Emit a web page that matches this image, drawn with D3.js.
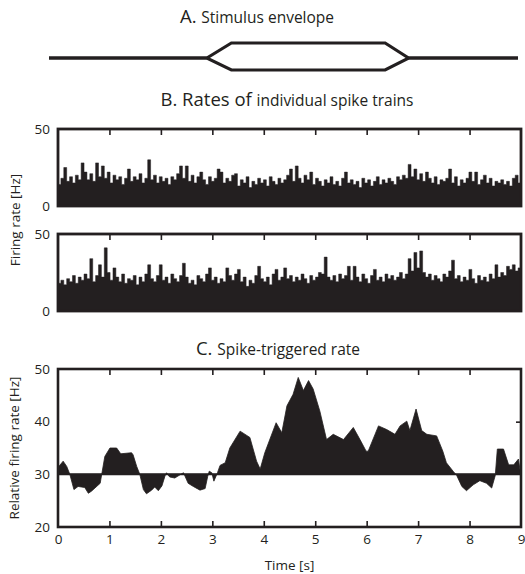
<!DOCTYPE html>
<html>
<head>
<meta charset="utf-8">
<script src="https://cdn.jsdelivr.net/npm/d3@7"></script>
<style>
  html, body { margin: 0; padding: 0; background: #fff; }
  svg { display: block; font-family: "Open Sans", sans-serif; }
</style>
</head>
<body>
<div id="viz"></div>
<script>
// A. stimulus envelope (schematic, time in s vs. relative amplitude)
const ENV_TIME = [0, 3.03, 3.5, 6.45, 6.9, 9];
const ENV_LEVEL = [0, 0, 1, 1, 0, 0];

// B. rates of two individual spike trains [Hz], evenly spaced over 0-9 s
const RATE_TOP = [
  14, 18, 25, 16, 19, 15, 20, 17, 28, 22,
  17, 21, 16, 28, 19, 26, 18, 22, 15, 20,
  17, 19, 14, 18, 24, 16, 19, 17, 21, 15,
  18, 30, 17, 20, 15, 19, 16, 18, 14, 19,
  17, 21, 26, 18, 26, 16, 20, 15, 19, 22,
  17, 14, 19, 16, 18, 24, 22, 15, 18, 16,
  20, 21, 13, 17, 15, 19, 12, 16, 14, 18,
  15, 17, 13, 19, 16, 14, 18, 15, 17, 20,
  24, 16, 26, 18, 15, 20, 17, 22, 14, 18,
  16, 13, 17, 15, 19, 14, 16, 13, 18, 22,
  15, 17, 14, 16, 12, 18, 15, 17, 13, 16,
  19, 14, 17, 15, 18, 16, 14, 19, 17, 20,
  18, 27, 19, 24, 17, 21, 16, 22, 18, 15,
  19, 14, 17, 16, 18, 24, 15, 19, 13, 17,
  15, 18, 22, 16, 22, 14, 17, 20, 15, 18,
  13, 16, 15, 17, 14, 16, 13, 18, 20, 15
];
const RATE_BOTTOM = [
  18, 20, 17, 21, 19, 23, 18, 22, 20, 24,
  21, 34, 19, 23, 30, 22, 41, 25, 20, 28,
  22, 19, 24, 18, 21, 20, 23, 17, 22, 19,
  24, 30, 21, 19, 23, 30, 20, 22, 18, 24,
  21, 19, 23, 31, 22, 18, 20, 17, 23, 21,
  19, 24, 28, 20, 22, 18, 21, 19, 28, 23,
  20, 24, 27, 19, 22, 16, 20, 18, 23, 29,
  21, 19, 22, 17, 24, 27, 20, 22, 28, 21,
  23, 19, 22, 20, 24, 21, 18, 23, 20, 22,
  25, 24, 35, 22, 20, 23, 19, 24, 21, 23,
  29, 20, 29, 22, 19, 24, 21, 18, 23, 27,
  20, 22, 19, 24, 21, 23, 20, 22, 25, 21,
  24, 34, 26, 38, 28, 39, 25, 22, 24, 20,
  23, 21, 19, 24, 22, 26, 33, 21, 23, 19,
  22, 20, 27, 21, 18, 23, 20, 22, 19, 24,
  21, 30, 22, 25, 23, 29, 27, 30, 26, 28
];

// C. spike-triggered rate [Hz]
const STA_TIME = [
  0, 0.1, 0.17, 0.23, 0.31, 0.39, 0.52, 0.59, 0.65, 0.82, 0.85, 0.91, 1.01, 1.14, 1.22,
  1.43, 1.46, 1.53, 1.59, 1.66, 1.72, 1.82, 1.88, 1.95, 2.02, 2.08, 2.11, 2.17, 2.27, 2.37,
  2.44, 2.53, 2.63, 2.76, 2.86, 2.91, 2.94, 2.99, 3.03, 3.10, 3.15, 3.25, 3.34, 3.54, 3.73,
  3.86, 3.93, 4.02, 4.24, 4.35, 4.45, 4.57, 4.67, 4.77, 4.87, 4.96, 5.09, 5.22, 5.35, 5.55,
  5.74, 5.87, 5.99, 6.03, 6.23, 6.39, 6.55, 6.65, 6.78, 6.84, 6.96, 7.07, 7.17, 7.36, 7.48,
  7.55, 7.68, 7.75, 7.85, 7.94, 8.07, 8.20, 8.33, 8.43, 8.50, 8.54, 8.66, 8.76, 8.86, 8.95,
  8.98, 9.0
];
const STA_RATE = [
  31.3, 32.5, 31.5, 30, 27.1, 27.7, 27.5, 26.4, 26.8, 28.3, 30, 33.4, 35.0, 35.0, 33.9,
  34.1, 33.7, 31.5, 30, 27.1, 26.3, 27.0, 27.6, 26.9, 27.8, 29.7, 30.3, 29.5, 29.3, 29.9,
  30.3, 28.3, 27.7, 27.0, 27.3, 29.6, 30.6, 30.3, 28.7, 30.3, 31.7, 32.2, 35.0, 38.2, 37.0,
  32.5, 31.0, 34.1, 39.8, 37.9, 43.0, 45.2, 48.4, 45.9, 47.8, 46.2, 42.0, 36.6, 37.6, 36.6,
  38.9, 36.6, 34.4, 34.4, 39.2, 38.5, 37.6, 39.2, 40.1, 38.3, 42.4, 38.3, 37.6, 37.3, 34.4,
  32.2, 30.6, 29.8, 27.7, 26.9, 28.0, 28.8, 28.3, 27.4, 29.8, 34.8, 34.8, 31.8, 31.8, 32.9,
  30.9, 30
];
const STA_BASELINE = 30;

const TIME_TICKS = [0, 1, 2, 3, 4, 5, 6, 7, 8, 9];
const INNER_TICKS = [1, 2, 3, 4, 5, 6, 7, 8];
const RATE_TICKS = [0, 50];
const STA_TICKS = [20, 30, 40, 50];

const W = 525;
const H = 574;
const INK = "#231f20";
const LABEL_SIZE = 13.5;

const svg = d3.select("#viz").append("svg").attr("width", W).attr("height", H);

const x = d3.scaleLinear().domain([0, 9]).range([58, 521]);

// --- A. stimulus envelope ---
const xEnv = d3.scaleLinear().domain([0, 9]).range([49, 518]);
const yEnv = d3.scaleLinear().domain([-1, 0, 1]).range([70, 58, 43]);
const envLine = d3.line().x((d, i) => xEnv(ENV_TIME[i])).y(d => yEnv(d));

svg.append("path")
  .attr("d", envLine(ENV_LEVEL))
  .attr("fill", "none").attr("stroke", INK).attr("stroke-width", 3.2);
svg.append("path")
  .attr("d", envLine(ENV_LEVEL.map(v => -v)))
  .attr("fill", "none").attr("stroke", INK).attr("stroke-width", 3.2);

function title(y, big, small) {
  const t = svg.append("text")
    .attr("x", 0).attr("y", y)
    .attr("fill", INK);
  t.append("tspan").attr("font-size", 18.5).text(big);
  t.append("tspan").attr("font-size", 15.5).text(small);
  return t;
}

const titles = [
  { y: 23, cx: 257, big: "A. ", small: "Stimulus envelope" },
  { y: 106, cx: 287, big: "B. Rates of ", small: "individual spike trains" },
  { y: 355, cx: 278, big: "C. ", small: "Spike-triggered rate" }
];
titles.forEach(d => {
  const t = title(d.y, d.big, d.small);
  const w = t.node().getComputedTextLength();
  t.attr("x", d.cx - w / 2);
});

// --- B. individual spike-train rates ---
function ratePanel(values, top, bottom) {
  const y = d3.scaleLinear().domain([0, 50]).range([bottom, top]);
  const step = 9 / values.length;
  const area = d3.area()
    .curve(d3.curveStepAfter)
    .x((d, i) => x(i * step))
    .y0(y(0))
    .y1(d => y(d));

  svg.append("path")
    .attr("d", area(values.concat(values[values.length - 1])))
    .attr("fill", INK)
    .attr("stroke", INK)
    .attr("stroke-width", 0.5);

  const ticks = svg.append("g")
    .attr("transform", `translate(0,${top})`)
    .call(d3.axisTop(x).tickValues(INNER_TICKS).tickSize(-6).tickFormat(""));
  ticks.select(".domain").remove();
  ticks.selectAll("line").attr("stroke", INK).attr("stroke-width", 1.6);

  const labels = svg.append("g")
    .attr("transform", "translate(58,0)")
    .call(d3.axisLeft(y).tickValues(RATE_TICKS).tickSize(0).tickPadding(8));
  labels.select(".domain").remove();
  labels.selectAll("text")
    .attr("font-family", "Open Sans, sans-serif")
    .attr("font-size", LABEL_SIZE)
    .attr("fill", INK);

  svg.append("rect")
    .attr("x", x(0)).attr("y", top)
    .attr("width", x(9) - x(0)).attr("height", bottom - top)
    .attr("fill", "none").attr("stroke", INK).attr("stroke-width", 2.8);
}

ratePanel(RATE_TOP, 129, 206);
ratePanel(RATE_BOTTOM, 234, 311);

svg.append("text")
  .attr("transform", "translate(20,220) rotate(-90)")
  .attr("text-anchor", "middle")
  .attr("font-size", LABEL_SIZE)
  .attr("fill", INK)
  .text("Firing rate [Hz]");

// --- C. spike-triggered rate ---
const cTop = 369;
const cBottom = 527;
const yC = d3.scaleLinear().domain([20, 50]).range([cBottom, cTop]);

const staArea = d3.area()
  .x((d, i) => x(STA_TIME[i]))
  .y0(yC(STA_BASELINE))
  .y1(d => yC(d));

svg.append("path")
  .attr("d", staArea(STA_RATE))
  .attr("fill", INK)
  .attr("stroke", INK)
  .attr("stroke-width", 0.8);

svg.append("line")
  .attr("x1", x(0)).attr("x2", x(9))
  .attr("y1", yC(STA_BASELINE)).attr("y2", yC(STA_BASELINE))
  .attr("stroke", INK).attr("stroke-width", 2);

const cTopTicks = svg.append("g")
  .attr("transform", `translate(0,${cTop})`)
  .call(d3.axisTop(x).tickValues(INNER_TICKS).tickSize(-6).tickFormat(""));
const cBottomTicks = svg.append("g")
  .attr("transform", `translate(0,${cBottom})`)
  .call(d3.axisBottom(x).tickValues(INNER_TICKS).tickSize(-6).tickFormat(""));
const cRightTicks = svg.append("g")
  .attr("transform", `translate(${x(9)},0)`)
  .call(d3.axisRight(yC).tickValues([40]).tickSize(-5).tickFormat(""));
[cTopTicks, cBottomTicks, cRightTicks].forEach(g => {
  g.select(".domain").remove();
  g.selectAll("line").attr("stroke", INK).attr("stroke-width", 1.6);
});

const cLeft = svg.append("g")
  .attr("transform", `translate(${x(0)},0)`)
  .call(d3.axisLeft(yC).tickValues(STA_TICKS).tickSize(0).tickPadding(8));
const cTime = svg.append("g")
  .attr("transform", `translate(0,${cBottom})`)
  .call(d3.axisBottom(x).tickValues(TIME_TICKS).tickSize(0).tickPadding(7));
[cLeft, cTime].forEach(g => {
  g.select(".domain").remove();
  g.selectAll("text")
    .attr("font-family", "Open Sans, sans-serif")
    .attr("font-size", LABEL_SIZE)
    .attr("fill", INK);
});

svg.append("rect")
  .attr("x", x(0)).attr("y", cTop)
  .attr("width", x(9) - x(0)).attr("height", cBottom - cTop)
  .attr("fill", "none").attr("stroke", INK).attr("stroke-width", 2.6);

svg.append("text")
  .attr("transform", "translate(19,448) rotate(-90)")
  .attr("text-anchor", "middle")
  .attr("font-size", LABEL_SIZE)
  .attr("fill", INK)
  .text("Relative firing rate [Hz]");

svg.append("text")
  .attr("x", (x(0) + x(9)) / 2)
  .attr("y", 570)
  .attr("text-anchor", "middle")
  .attr("font-size", LABEL_SIZE)
  .attr("fill", INK)
  .text("Time [s]");
</script>
</body>
</html>
